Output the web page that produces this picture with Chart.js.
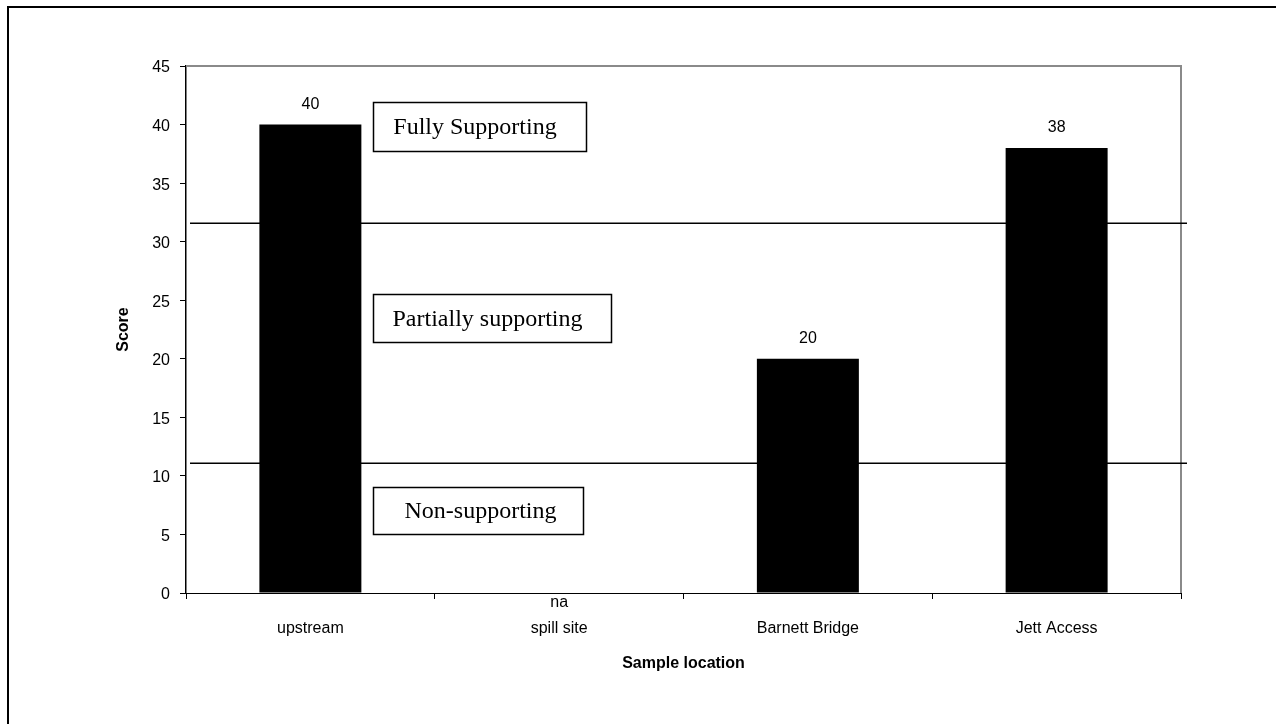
<!DOCTYPE html>
<html><head><meta charset="utf-8">
<script src="https://cdn.jsdelivr.net/npm/chart.js"></script>
<style>
html,body{margin:0;padding:0;background:#fff;overflow:hidden;}
#wrap{position:relative;width:1276px;height:724px;overflow:hidden;}
#frame{position:absolute;left:7px;top:6px;width:1400px;height:800px;border:2px solid #000;box-sizing:border-box;}
#c{position:absolute;left:0;top:0;}
</style></head><body>
<div id="wrap"><div id="frame"></div><canvas id="c" width="1276" height="724"></canvas></div>
<script>
// ---- data ----
const categories = ['upstream', 'spill site', 'Barnett Bridge', 'Jett Access'];
const scores = [40, null, 20, 38];
const missingLabel = 'na';
const yMin = 0, yMax = 45, yStep = 5;
const thresholds = [31.6, 11.1];
const zoneLabels = ['Fully Supporting', 'Partially supporting', 'Non-supporting'];

// ---- layout of annotation boxes (value-space anchors, pixel sizes) ----
const zoneBoxes = [
  {xIdx: 0.25, yTop: 41.9, w: 213, h: 49, dx: -5},
  {xIdx: 0.25, yTop: 25.5, w: 238, h: 48, dx: -5},
  {xIdx: 0.25, yTop: 9.05, w: 210, h: 47, dx: 2}
];

const SANS = '"Liberation Sans", Arial, sans-serif';
const SERIF = '"Liberation Serif", "Times New Roman", serif';

const overlay = {
  id: 'overlay',
  afterDatasetsDraw(chart) {
    const {ctx, chartArea: a, scales: {x, y}} = chart;
    ctx.save();
    // plot frame (top & right) gray
    ctx.strokeStyle = '#8a8a8a';
    ctx.lineWidth = 2;
    ctx.beginPath();
    ctx.moveTo(a.left, a.top);
    ctx.lineTo(a.right, a.top);
    ctx.lineTo(a.right, a.bottom);
    ctx.stroke();
    // threshold lines
    ctx.strokeStyle = '#000';
    ctx.lineWidth = 1.5;
    thresholds.forEach(t => {
      const py = Math.round(y.getPixelForValue(t)) + 0.25;
      ctx.beginPath();
      ctx.moveTo(a.left + 4, py);
      ctx.lineTo(a.right + 6, py);
      ctx.stroke();
    });
    // zone boxes
    ctx.font = '24px ' + SERIF;
    ctx.textBaseline = 'middle';
    ctx.textAlign = 'center';
    zoneBoxes.forEach((b, i) => {
      const bx = Math.round(x.getPixelForValue(b.xIdx)) + 0.5;
      const by = Math.round(y.getPixelForValue(b.yTop)) + 0.5;
      ctx.fillStyle = '#fff';
      ctx.fillRect(bx, by, b.w, b.h);
      ctx.strokeStyle = '#000';
      ctx.lineWidth = 1.5;
      ctx.strokeRect(bx, by, b.w, b.h);
      ctx.fillStyle = '#000';
      ctx.fillText(zoneLabels[i], bx + b.w / 2 + b.dx, by + b.h / 2 + 1);
    });
    // value labels
    ctx.font = '16px ' + SANS;
    ctx.textAlign = 'center';
    ctx.textBaseline = 'middle';
    scores.forEach((v, i) => {
      const px = x.getPixelForValue(i);
      if (v == null) {
        ctx.fillText(missingLabel, px, y.getPixelForValue(0) + 10);
      } else {
        ctx.fillText(String(v), px, y.getPixelForValue(v) - 20);
      }
    });
    ctx.restore();
  }
};

new Chart(document.getElementById('c'), {
  type: 'bar',
  data: {
    labels: categories,
    datasets: [{
      data: scores,
      backgroundColor: '#000',
      borderWidth: 0,
      categoryPercentage: 1,
      barPercentage: 0.41
    }]
  },
  options: {
    responsive: false,
    animation: false,
    devicePixelRatio: 1,
    layout: {padding: {top: 66, right: 95, left: 0, bottom: 0}},
    plugins: {legend: {display: false}, tooltip: {enabled: false}},
    scales: {
      x: {
        grid: {display: true, drawOnChartArea: false, drawTicks: true, tickLength: 6, color: '#000', offset: true},
        border: {display: true, color: '#000', width: 1},
        ticks: {color: '#000', font: {family: SANS, size: 16}, padding: 20, maxRotation: 0},
        title: {display: true, text: 'Sample location', color: '#000', font: {family: SANS, size: 16, weight: 'bold'}, padding: {top: 0, bottom: 51}},
        afterFit(s) { s.height = 131; }
      },
      y: {
        min: yMin, max: yMax,
        grid: {display: true, drawOnChartArea: false, drawTicks: true, tickLength: 6, color: '#000'},
        border: {display: true, color: '#000', width: 1.5},
        ticks: {stepSize: yStep, color: '#000', font: {family: SANS, size: 16}, padding: 10, labelOffset: 2},
        title: {display: true, text: 'Score', color: '#000', font: {family: SANS, size: 16, weight: 'bold'}, padding: {top: 114, bottom: 0}},
        afterFit(s) { s.width = 186; }
      }
    }
  },
  plugins: [overlay]
});
</script>
</body></html>
